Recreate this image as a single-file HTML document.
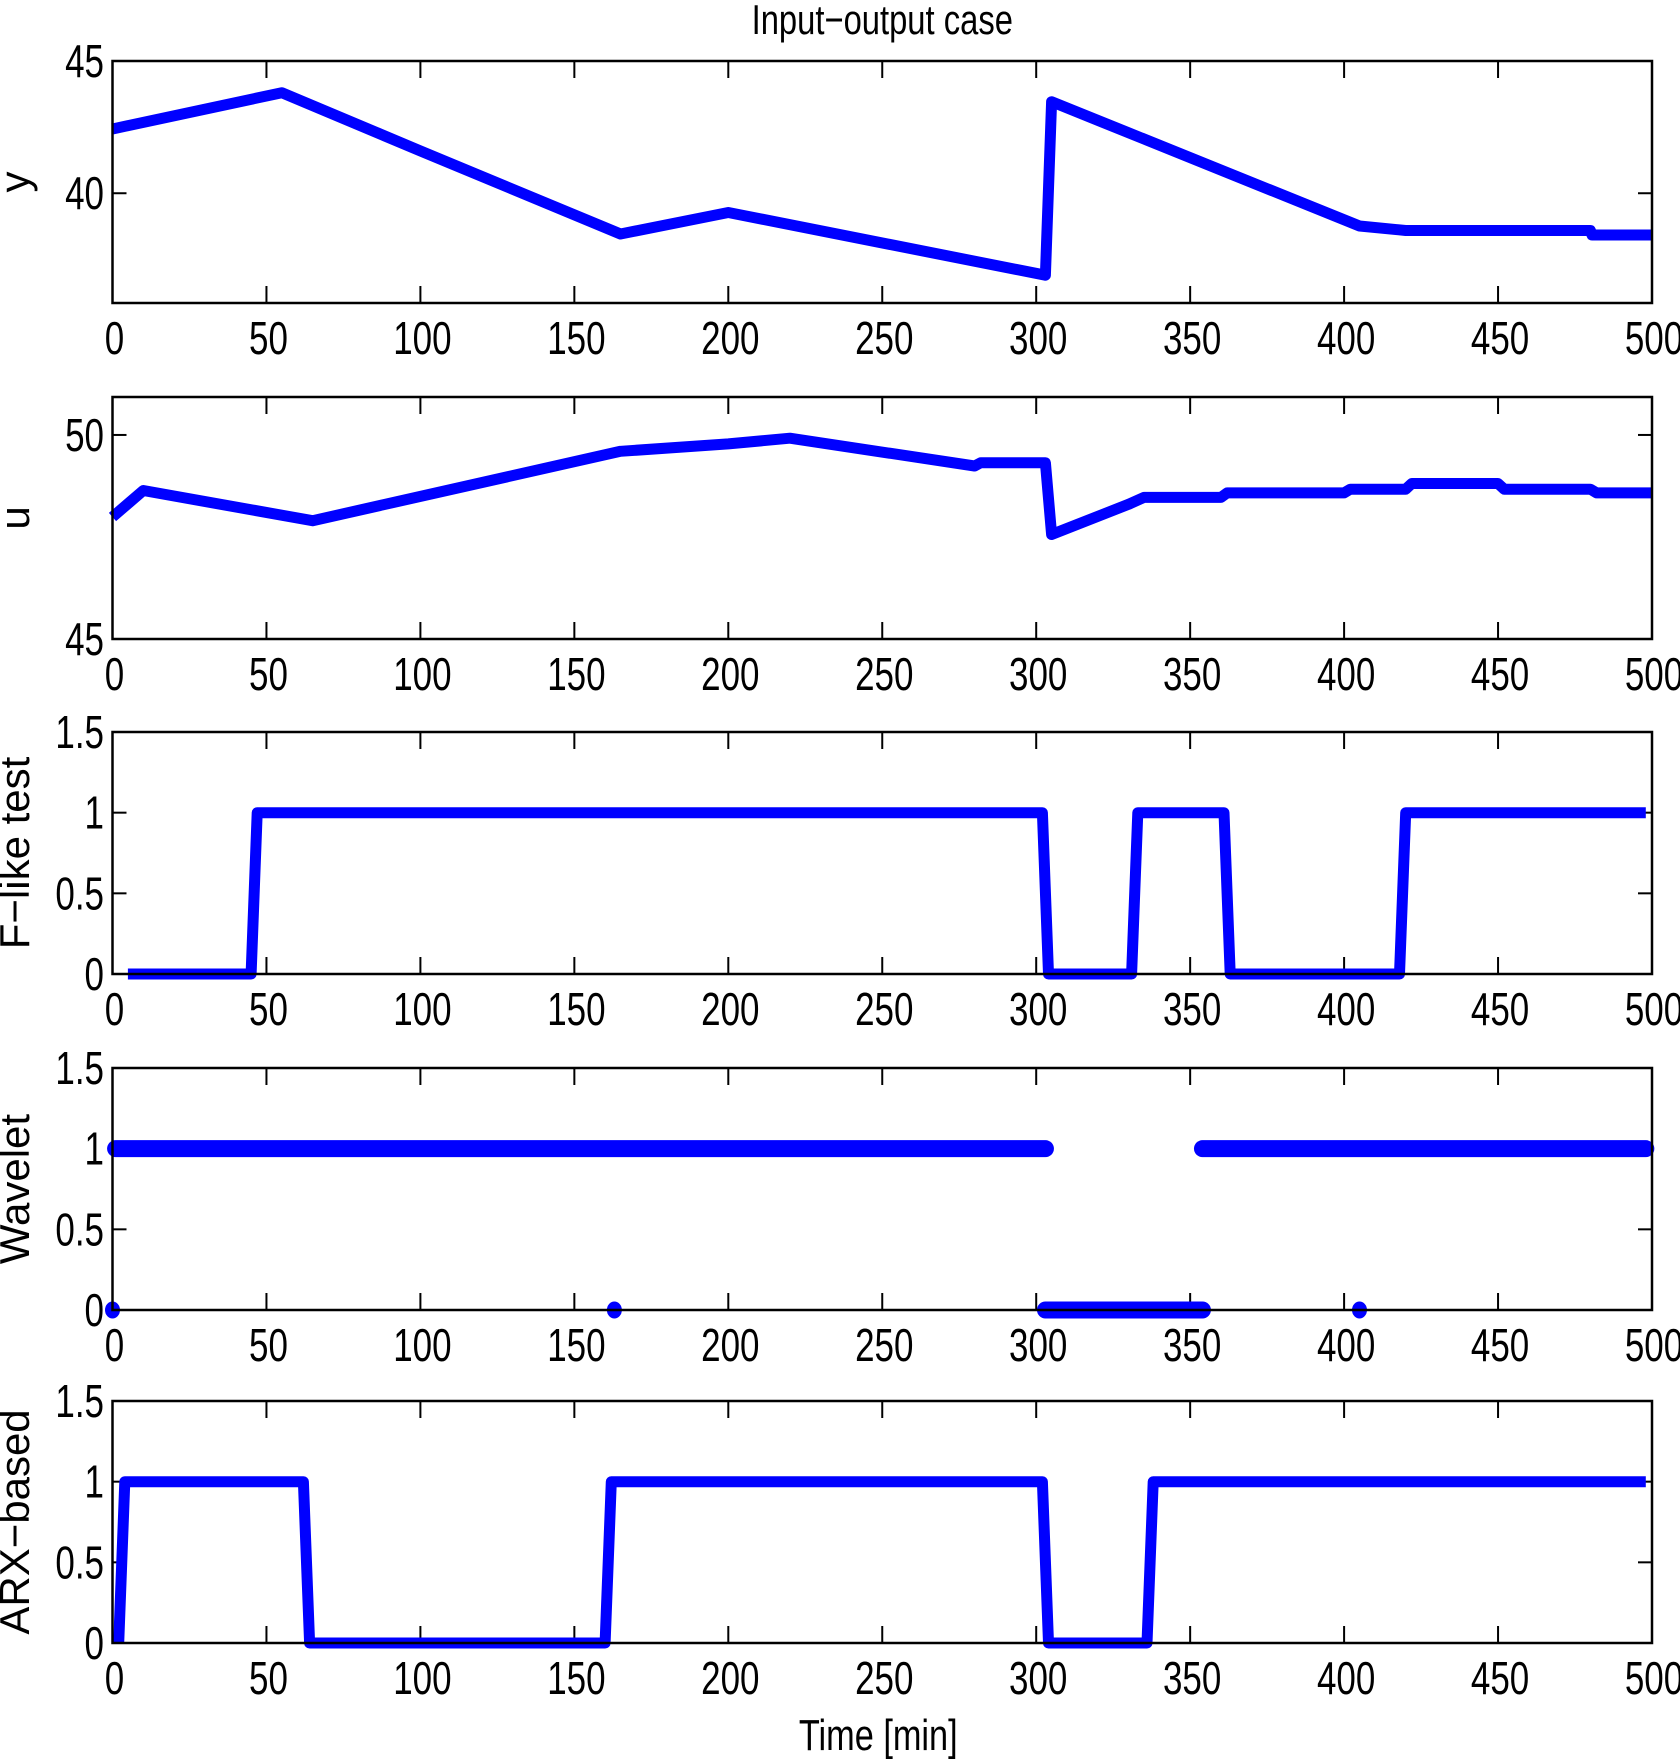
<!DOCTYPE html>
<html><head><meta charset="utf-8"><style>
html,body{margin:0;padding:0;background:#fff;}
svg{display:block;}
text{font-family:"Liberation Sans",sans-serif;fill:#000;}
</style></head><body>
<svg id="chart" width="1680" height="1762" viewBox="0 0 1680 1762" xmlns="http://www.w3.org/2000/svg"></svg>
<script>
const xTicks=[0,50,100,150,200,250,300,350,400,450,500];
const yT=[0,55,100,165,200,303,305,405,420,480,480.5,500];
const yV=[42.43,43.8,41.6,38.46,39.27,36.9,43.46,38.76,38.59,38.59,38.42,38.42];
const uT=[0,10,65,165,200,220,280,282,302,303,305,330,335,360,362,400,402,420,422,450,452,480,482,500];
const uV=[47.99,48.64,47.9,49.6,49.78,49.92,49.24,49.32,49.32,49.32,47.56,48.3,48.47,48.47,48.58,48.58,48.67,48.67,48.81,48.81,48.67,48.67,48.58,48.58];
const fT=[5,45,47,302,304,331,333,361,363,418,420,498];
const fV=[0,0,1,1,0,0,1,1,0,0,1,1];
const aT=[2,4,62,64,160,162,302,304,336,338,498];
const aV=[0,1,1,0,0,1,1,0,0,1,1];
const wOneSeg=[[1,303],[354,498]];
const wZeroSeg=[[303,354]];
const wZeroPts=[0,163,405];
const NS='http://www.w3.org/2000/svg';
const svg=document.getElementById('chart');
const L=112.5,R=1652,H=242;
const tops=[61,397,732,1068,1401];
function el(tag,attrs,parent){const e=document.createElementNS(NS,tag);for(const k in attrs)e.setAttribute(k,attrs[k]);(parent||svg).appendChild(e);return e;}
function sx(t){return L+(R-L)*t/500;}
function txt(s,x,y,size,anchor,sc,name,g,rot){
  const t=el('text',{x:0,y:0,'font-size':size,'text-anchor':anchor,transform:`translate(${x},${y}) ${rot?'rotate(-90)':''} scale(${sc},1)`},g);
  t.textContent=s;
  
  
  return t;
}
txt('Input\u2212output case',(L+R)/2,34,42,'middle',0.78,'chart-title');
const panels=[
 {name:'y',label:'y',min:35.85,max:45,yt:[40,45],yl:['40','45']},
 {name:'u',label:'u',min:45,max:50.93,yt:[45,50],yl:['45','50']},
 {name:'f-like-test',label:'F\u2212like test',min:0,max:1.5,yt:[0,0.5,1,1.5],yl:['0','0.5','1','1.5']},
 {name:'wavelet',label:'Wavelet',min:0,max:1.5,yt:[0,0.5,1,1.5],yl:['0','0.5','1','1.5']},
 {name:'arx-based',label:'ARX\u2212based',min:0,max:1.5,yt:[0,0.5,1,1.5],yl:['0','0.5','1','1.5']}
];
panels.forEach((p,i)=>{
  const top=tops[i],bot=top+H;
  const g=el('g',{});
  
  
  const sy=v=>bot-(v-p.min)/(p.max-p.min)*H;
  xTicks.forEach(t=>{
    const x=sx(t);
    el('line',{x1:x,x2:x,y1:top,y2:top+17,stroke:'#000','stroke-width':2},g);
    el('line',{x1:x,x2:x,y1:bot,y2:bot-17,stroke:'#000','stroke-width':2},g);
    txt(String(t),x+2,bot+51,46,'middle',0.76,'x-tick-label',g);
  });
  p.yt.forEach((v,j)=>{
    const y=sy(v);
    el('line',{x1:L,x2:L+14,y1:y,y2:y,stroke:'#000','stroke-width':2},g);
    el('line',{x1:R,x2:R-14,y1:y,y2:y,stroke:'#000','stroke-width':2},g);
    txt(p.yl[j],104,y+16,46,'end',0.76,'y-tick-label',g);
  });
  txt(p.label,29,(top+bot)/2,42,'middle',1,'y-axis-title',g,true);
  const clipId='c'+i;
  const cp=el('clipPath',{id:clipId},g);el('rect',{x:L-20,y:top-10,width:R-L+40,height:H+20},cp);
  let mark;
  if(p.name==='wavelet'){
    wOneSeg.forEach(s=>{mark=el('line',{x1:sx(s[0]),x2:sx(s[1]),y1:sy(1),y2:sy(1),stroke:'#0000ff','stroke-width':17,'stroke-linecap':'round'},g);
      });
    wZeroSeg.forEach(s=>{mark=el('line',{x1:sx(s[0]),x2:sx(s[1]),y1:sy(0),y2:sy(0),stroke:'#0000ff','stroke-width':17,'stroke-linecap':'round'},g);
      });
    wZeroPts.forEach(t=>{mark=el('ellipse',{cx:sx(t),cy:sy(0),rx:7.5,ry:8.5,fill:'#0000ff'},g);
      });
  } else {
    const T={y:yT,u:uT,'f-like-test':fT,'arx-based':aT}[p.name];
    const V={y:yV,u:uV,'f-like-test':fV,'arx-based':aV}[p.name];
    const pts=T.map((t,k)=>sx(t).toFixed(1)+','+sy(V[k]).toFixed(1)).join(' ');
    mark=el('polyline',{points:pts,fill:'none',stroke:'#0000ff','stroke-width':11,'stroke-linejoin':'round','clip-path':`url(#${clipId})`},g);
    
    
  }
  const fr=el('rect',{x:L,y:top,width:R-L,height:H,fill:'none',stroke:'#000','stroke-width':2.5},g);
  
  
});
txt('Time [min]',(L+R)/2-4,1750,44,'middle',0.78,'x-axis-title');
</script>
</body></html>
